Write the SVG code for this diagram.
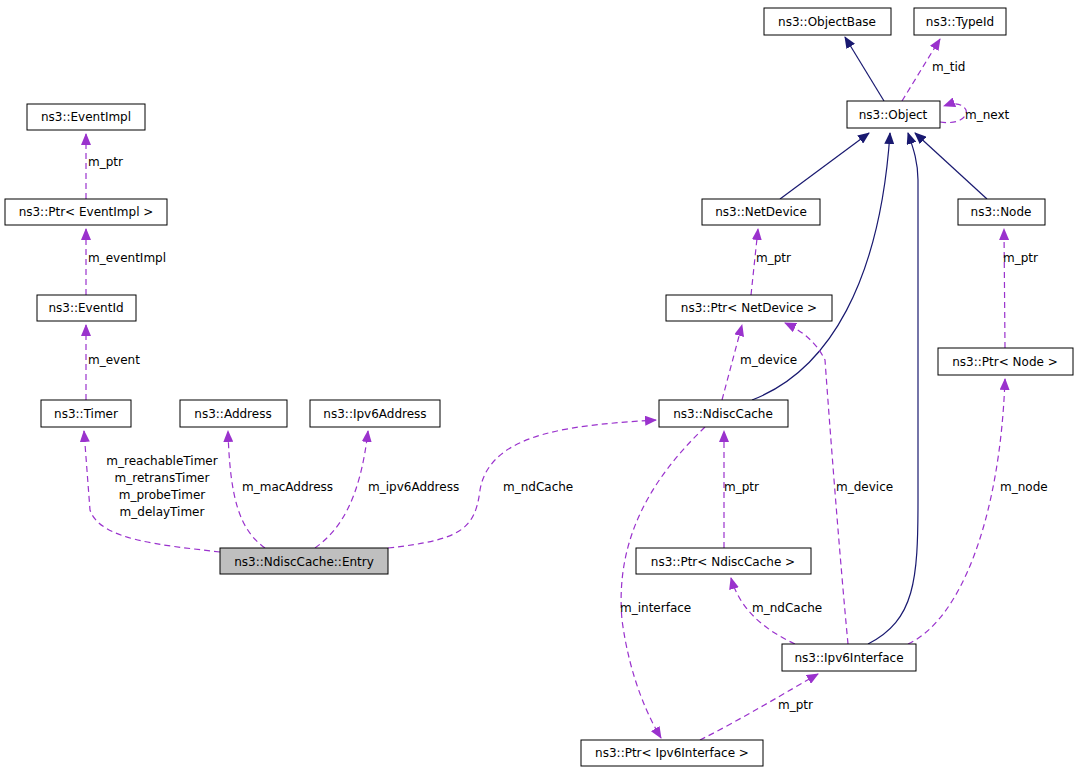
<svg xmlns="http://www.w3.org/2000/svg" width="1079" height="773" viewBox="0 0 1079 773">
<defs>
<style>
.n rect{fill:#fff;stroke:#000;stroke-width:1}
text{font-family:"DejaVu Sans",sans-serif;font-size:12px;fill:#000}
.n text{text-anchor:middle}
.inh{fill:none;stroke:#191970;stroke-width:1.2;marker-end:url(#ai)}
.use{fill:none;stroke:#9a32cd;stroke-width:1.2;stroke-dasharray:6,4;marker-end:url(#au)}
</style>
<marker id="ai" markerWidth="12" markerHeight="10" refX="11" refY="5" orient="auto" markerUnits="userSpaceOnUse"><path d="M0,0 L12,5 L0,10 Z" fill="#191970"/></marker>
<marker id="au" markerWidth="12" markerHeight="10" refX="11" refY="5" orient="auto" markerUnits="userSpaceOnUse"><path d="M0,0 L12,5 L0,10 Z" fill="#9a32cd"/></marker>
</defs>
<rect width="1079" height="773" fill="#fff"/>
<g id="edges">
<path class="inh" d="M884,101 L845,37"/>
<path class="inh" d="M780,199 L869,133"/>
<path class="inh" d="M987,199 L915,133"/>
<path class="inh" d="M752,400 C830,370 880,280 890,133"/>
<path class="inh" d="M868,644 C915,620 918,580 918,500 L918,180 C918,160 912,145 908,133"/>
<path class="use" d="M902,101 L940,39"/>
<path class="use" d="M940,122 C960,125 968,116 966,110 C963,104 955,102 944,106"/>
<path class="use" d="M86,199 L86,134"/>
<path class="use" d="M86,295 L86,229"/>
<path class="use" d="M86,400 L86,325"/>
<path class="use" d="M751,295 L758,229"/>
<path class="use" d="M1005,348 L1004,229"/>
<path class="use" d="M722,400 L742,325"/>
<path class="use" d="M848,644 C840,560 830,430 825,360 C815,340 800,330 785,323"/>
<path class="use" d="M908,644 C960,620 1000,520 1005,379"/>
<path class="use" d="M724,548 L724,431"/>
<path class="use" d="M795,644 C765,630 740,610 731,578"/>
<path class="use" d="M700,740 C740,720 790,690 818,674"/>
<path class="use" d="M705,427 C650,480 615,540 622,620 C630,680 650,720 661,738"/>
<path class="use" d="M220,552 C160,545 100,540 90,510 L84,431"/>
<path class="use" d="M265,548 C240,530 230,500 228,431"/>
<path class="use" d="M315,548 C340,530 360,500 368,431"/>
<path class="use" d="M388,548 C460,540 475,530 480,490 C490,430 580,425 656,420"/>
<text x="932" y="71">m_tid</text>
<text x="965" y="119">m_next</text>
<text x="88" y="166">m_ptr</text>
<text x="88" y="262">m_eventImpl</text>
<text x="88" y="364">m_event</text>
<text x="756" y="262">m_ptr</text>
<text x="1003" y="262">m_ptr</text>
<text x="740" y="364">m_device</text>
<text x="836" y="491">m_device</text>
<text x="1000" y="491">m_node</text>
<text x="724" y="491">m_ptr</text>
<text x="752" y="612">m_ndCache</text>
<text x="778" y="709">m_ptr</text>
<text x="620" y="612">m_interface</text>
<text x="162" y="465" text-anchor="middle">m_reachableTimer</text>
<text x="162" y="482" text-anchor="middle">m_retransTimer</text>
<text x="162" y="499" text-anchor="middle">m_probeTimer</text>
<text x="162" y="516" text-anchor="middle">m_delayTimer</text>
<text x="242" y="491">m_macAddress</text>
<text x="368" y="491">m_ipv6Address</text>
<text x="503" y="491">m_ndCache</text>
</g>
<g id="ObjectBase" class="n"><rect x="764" y="8" width="127" height="27"/><text x="827" y="26">ns3::ObjectBase</text></g>
<g id="TypeId" class="n"><rect x="914" y="8" width="92" height="27"/><text x="960" y="26">ns3::TypeId</text></g>
<g id="EventImpl" class="n"><rect x="27" y="104" width="118" height="26"/><text x="86" y="121">ns3::EventImpl</text></g>
<g id="Object" class="n"><rect x="847" y="101" width="93" height="27"/><text x="893" y="119">ns3::Object</text></g>
<g id="PtrEventImpl" class="n"><rect x="5" y="199" width="162" height="26"/><text x="86" y="216">ns3::Ptr&lt; EventImpl &gt;</text></g>
<g id="NetDevice" class="n"><rect x="702" y="199" width="118" height="26"/><text x="761" y="216">ns3::NetDevice</text></g>
<g id="Node" class="n"><rect x="958" y="199" width="87" height="26"/><text x="1001" y="216">ns3::Node</text></g>
<g id="EventId" class="n"><rect x="37" y="295" width="99" height="26"/><text x="86" y="312">ns3::EventId</text></g>
<g id="PtrNetDevice" class="n"><rect x="666" y="295" width="166" height="26"/><text x="749" y="312">ns3::Ptr&lt; NetDevice &gt;</text></g>
<g id="PtrNode" class="n"><rect x="938" y="348" width="135" height="27"/><text x="1005" y="366">ns3::Ptr&lt; Node &gt;</text></g>
<g id="Timer" class="n"><rect x="41" y="400" width="90" height="27"/><text x="86" y="418">ns3::Timer</text></g>
<g id="Address" class="n"><rect x="180" y="400" width="107" height="27"/><text x="233" y="418">ns3::Address</text></g>
<g id="Ipv6Address" class="n"><rect x="310" y="400" width="130" height="27"/><text x="375" y="418">ns3::Ipv6Address</text></g>
<g id="NdiscCache" class="n"><rect x="659" y="400" width="129" height="27"/><text x="723" y="418">ns3::NdiscCache</text></g>
<g id="Entry" class="n"><rect x="220" y="548" width="168" height="26" style="fill:#bfbfbf"/><text x="304" y="566">ns3::NdiscCache::Entry</text></g>
<g id="PtrNdiscCache" class="n"><rect x="636" y="548" width="175" height="26"/><text x="723" y="566">ns3::Ptr&lt; NdiscCache &gt;</text></g>
<g id="Ipv6Interface" class="n"><rect x="782" y="644" width="134" height="27"/><text x="849" y="662">ns3::Ipv6Interface</text></g>
<g id="PtrIpv6Interface" class="n"><rect x="581" y="740" width="182" height="26"/><text x="672" y="757">ns3::Ptr&lt; Ipv6Interface &gt;</text></g>
</svg>
